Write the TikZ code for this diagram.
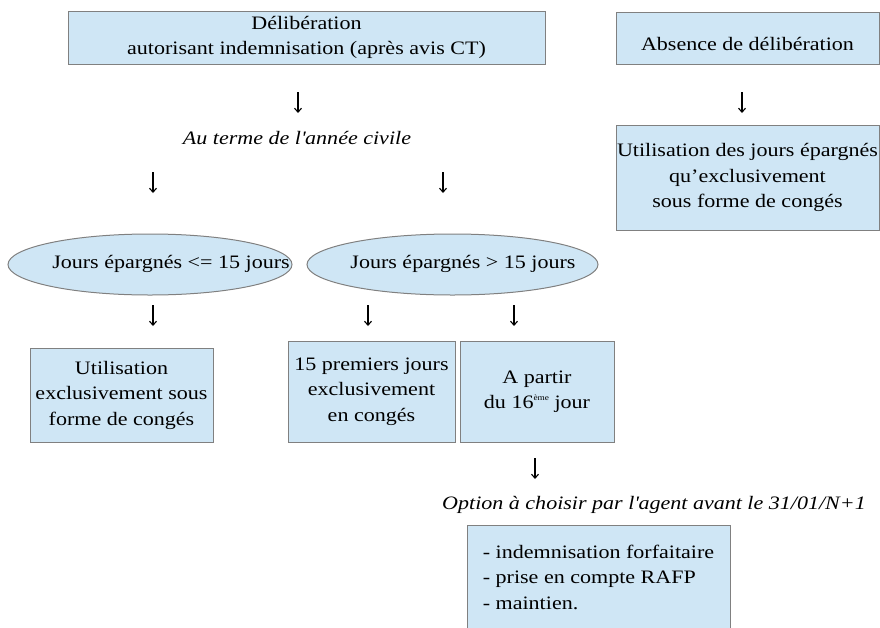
\documentclass[tikz,border=0pt]{standalone}
\usepackage{fontspec}
\setmainfont[FakeStretch=1.16]{Liberation Serif}
\usetikzlibrary{shapes.geometric,arrows.meta,positioning}

\definecolor{boxblue}{RGB}{207,230,245}

\begin{document}
\begin{tikzpicture}[x=1pt,y=-1pt]
\tikzset{
  box/.style = {draw=gray, line width=1pt, fill=boxblue, align=center,
                inner sep=0pt, font=\fontsize{19}{25.5}\selectfont,
                execute at begin node={\rule{0pt}{25pt}}},
  oval/.style = {ellipse, draw=gray, line width=1pt, fill=boxblue,
                 inner sep=0pt, minimum height=61pt},
  plain/.style = {inner sep=0pt, font=\fontsize{19}{25}\selectfont},
  note/.style = {plain, font=\fontsize{19}{25}\selectfont\itshape},
  arr/.style = {line width=1.1pt, -{Straight Barb[length=4pt,width=7pt]}},
}
\useasboundingbox (0,0) rectangle (880,627);

  % left branch: deliberation
  \node[box, minimum width=477pt, minimum height=53pt] (delib) at (306.5,37.5)
    {Délibération\\autorisant indemnisation (après avis CT)};
  \node[note] (terme) at (297,138.5) {Au terme de l\textquotesingle année civile};

  \node[oval, minimum width=284pt] (moins) at (150,264.5) {};
  \node[plain] (moinstxt) at (171,264) {Jours épargnés <= 15 jours};
  \node[oval, minimum width=291pt] (plus) at (452.5,264.5) {};
  \node[plain] (plustxt) at (463,264) {Jours épargnés > 15 jours};

  \node[box, minimum width=183pt, minimum height=94pt] (conges) at (121.5,395)
    {Utilisation\\exclusivement sous\\forme de congés};
  \node[box, minimum width=167pt, minimum height=101pt] (premiers) at (371.5,391.5)
    {15 premiers jours\\exclusivement\\en congés};
  \node[box, minimum width=154pt, minimum height=101pt] (partir) at (537,391.5)
    {A partir\\du 16\raisebox{8pt}{\fontsize{8}{8}\selectfont ème} jour};

  \node[note] (option) at (654,505) {Option à choisir par l\textquotesingle agent avant le 31/01/N+1};
  \node[box, align=left, minimum width=263pt, minimum height=104pt]
    (choix) at (598.5,577)
    {- indemnisation forfaitaire\\- prise en compte RAFP\\- maintien.};

  % right branch: no deliberation
  \node[box, minimum width=263pt, minimum height=52pt] (absence) at (747.5,38)
    {\rule{0pt}{13pt}Absence de délibération};
  \node[box, minimum width=263pt, minimum height=105pt] (utilabs) at (747.5,177.5)
    {Utilisation des jours épargnés\\qu’exclusivement\\sous forme de congés};

  \foreach \x/\y [count=\i] in {298/92, 742/92, 153/172, 443/172,
                                153/305, 368/305, 514/305, 535/458} {
    \coordinate (t\i) at (\x,\y);
    \coordinate (h\i) at (\x,\y+21);
    \draw[arr] (t\i) -- (h\i);
  }

\end{tikzpicture}
\end{document}
